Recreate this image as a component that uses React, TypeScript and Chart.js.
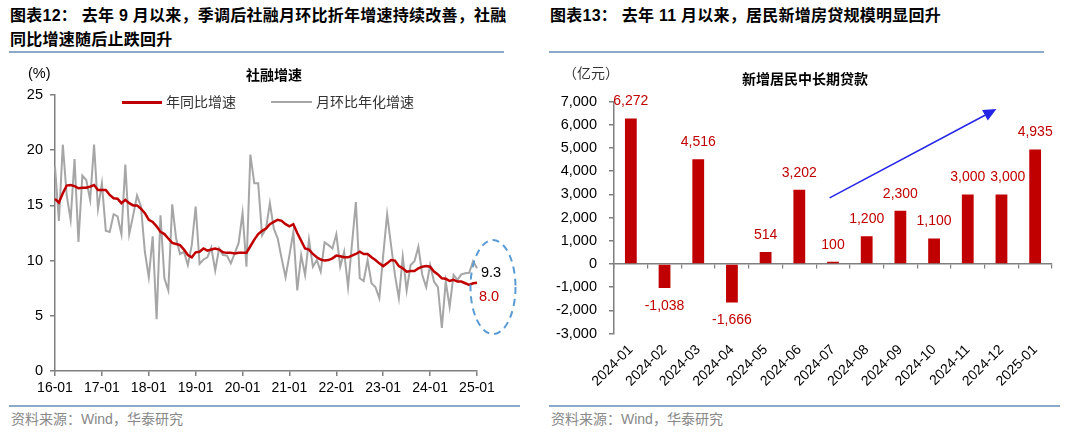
import React, { useEffect, useRef } from 'react';
import { Chart, registerables } from 'chart.js';

Chart.register(...registerables);

// ---------------- Left chart data ----------------
const MONTHS: string[] = [];
for (let y = 16; y <= 25; y++) {
  for (let m = 1; m <= 12; m++) {
    if (y === 25 && m > 1) break;
    MONTHS.push(`${y}-${m < 10 ? '0' + m : m}`);
  }
}
const LEFT_X_TICK_LABELS = ['16-01', '17-01', '18-01', '19-01', '20-01', '21-01', '22-01', '23-01', '24-01', '25-01'];

// 年同比增速 (%)
const TSF_YOY = [
  15.6, 15.25, 16.1, 16.8, 16.85, 16.75, 16.55, 16.6, 16.6, 16.7, 16.85, 16.4,
  16.4, 16.4, 15.95, 15.65, 15.6, 15.2, 15.5, 15.2, 15.0, 15.0, 14.7, 14.3,
  13.7, 13.5, 13.1, 12.6, 12.4, 12.0, 11.6, 11.5, 11.4, 11.0, 10.5, 10.3,
  10.75, 10.8, 11.1, 10.9, 11.0, 11.1, 11.0, 10.75, 10.7, 10.7, 10.65, 10.7,
  10.7, 10.7, 11.3, 11.9, 12.4, 12.7, 12.9, 13.3, 13.5, 13.7, 13.6, 13.3,
  13.1, 13.3, 12.5, 11.8, 11.1, 11.0, 10.6, 10.3, 10.1, 10.0, 10.05, 10.2,
  10.45, 10.4, 10.3, 10.3, 10.45, 10.6, 10.8, 10.6, 10.6, 10.3, 10.05, 9.75,
  9.5, 9.75, 10.05, 10.0, 9.5, 9.3, 9.0, 9.05, 9.05, 9.3, 9.45, 9.5,
  9.45, 9.0, 8.75, 8.4, 8.35, 8.15, 8.25, 8.1, 8.1, 7.95, 7.8, 7.95,
  8.0,
];

// 月环比年化增速 (%)
const TSF_MOM_ANN = [
  18.5, 13.6, 20.5, 15.9, 13.7, 19.2, 11.7, 17.7, 17.3, 15.5, 20.5, 14.7,
  17.0, 12.7, 12.6, 14.2, 14.0, 12.4, 18.7, 12.4, 14.1, 15.9, 14.9, 10.8,
  8.5, 12.2, 4.7, 14.1, 8.4, 7.3, 15.1, 12.0, 10.6, 10.8, 9.6, 11.4,
  14.9, 9.7, 10.1, 10.3, 11.2, 9.1, 11.1, 10.5, 10.45, 9.75, 10.65, 11.6,
  14.3, 9.45, 19.6, 17.0, 17.0, 12.3, 12.9, 15.2, 12.9, 12.0, 10.2, 8.5,
  10.5, 12.6, 7.3, 10.5, 8.7, 11.9, 9.45, 10.05, 9.0, 11.65, 11.4, 11.1,
  12.4, 9.45, 10.8, 7.6, 11.5, 15.3, 8.4, 8.15, 10.05, 7.95, 7.6, 6.6,
  10.5, 14.2, 11.4, 8.7, 6.6, 10.35, 7.3, 9.6, 9.95, 11.25, 8.7, 7.6,
  9.6, 8.1, 7.6, 3.9, 8.1, 5.8, 8.7, 8.25, 8.75, 8.85, 8.9, 9.95,
  9.3,
];

// ---------------- Right chart data ----------------
const LOAN_MONTHS = ['2024-01', '2024-02', '2024-03', '2024-04', '2024-05', '2024-06', '2024-07', '2024-08', '2024-09', '2024-10', '2024-11', '2024-12', '2025-01'];
// 新增居民中长期贷款 (亿元)
const LOAN_VALUES = [6272, -1038, 4516, -1666, 514, 3202, 100, 1200, 2300, 1100, 3000, 3000, 4935];

// trend arrow, in data coordinates (category index, value)
const ARROW_FROM = [5.9, 2850];
const ARROW_TO = [10.85, 6680];

const RED = '#C00000';
const GRAY = '#A6A6A6';
const AXIS = '#7F7F7F';
const NUM_FONT = '"Liberation Sans", Arial, "Noto Sans CJK SC", sans-serif';
const CJK_FONT = '"Liberation Sans", "Noto Sans CJK SC", sans-serif';

const leftAnnot = {
  id: 'leftAnnot',
  afterDatasetsDraw(chart: any) {
    const ctx = chart.ctx;
    const xs = chart.scales.x;
    const ys = chart.scales.y;
    const last = MONTHS.length - 1;
    const px = xs.getPixelForValue(last);
    ctx.save();
    ctx.font = `14.5px ${NUM_FONT}`;
    ctx.textBaseline = 'middle';
    ctx.textAlign = 'left';
    ctx.fillStyle = '#000';
    ctx.fillText(TSF_MOM_ANN[last].toFixed(1), px + 4, ys.getPixelForValue(TSF_MOM_ANN[last]) + 4.5);
    ctx.fillStyle = RED;
    ctx.fillText(TSF_YOY[last].toFixed(1), px + 2, ys.getPixelForValue(TSF_YOY[last]) + 14);
    ctx.setLineDash([7, 5]);
    ctx.lineWidth = 2;
    ctx.strokeStyle = '#5B9BD5';
    ctx.beginPath();
    ctx.ellipse(px + 16, ys.getPixelForValue(7.6), 22.5, 47, 0, 0, Math.PI * 2);
    ctx.stroke();
    ctx.restore();
  },
};

const rightAnnot = {
  id: 'rightAnnot',
  afterDatasetsDraw(chart: any) {
    const ctx = chart.ctx;
    const meta = chart.getDatasetMeta(0);
    ctx.save();
    ctx.font = `14px ${NUM_FONT}`;
    ctx.textAlign = 'left';
    ctx.textBaseline = 'middle';
    ctx.fillStyle = RED;
    // value labels; shift right if a label would collide with the previous one at the same level
    let prevRight = -Infinity;
    let prevY = -Infinity;
    meta.data.forEach((el: any, i: number) => {
      const v = LOAN_VALUES[i];
      const txt = v.toLocaleString('en-US');
      const w = ctx.measureText(txt).width;
      const y = v >= 0 ? el.y - 17 : el.y + 18;
      let left = el.x - w / 2;
      if (Math.abs(y - prevY) < 14 && left < prevRight + 5) left = prevRight + 5;
      ctx.fillText(txt, left, y);
      prevRight = left + w;
      prevY = y;
    });
    // arrow
    const xs = chart.scales.x;
    const ys = chart.scales.y;
    const x1 = xs.getPixelForValue(ARROW_FROM[0]);
    const y1 = ys.getPixelForValue(ARROW_FROM[1]);
    const x2 = xs.getPixelForValue(ARROW_TO[0]);
    const y2 = ys.getPixelForValue(ARROW_TO[1]);
    const ang = Math.atan2(y2 - y1, x2 - x1);
    const hl = 13;
    const hw = 6;
    const bx = x2 - hl * Math.cos(ang);
    const by = y2 - hl * Math.sin(ang);
    ctx.strokeStyle = '#2525E8';
    ctx.fillStyle = '#2525E8';
    ctx.lineWidth = 1.5;
    ctx.beginPath();
    ctx.moveTo(x1, y1);
    ctx.lineTo(bx, by);
    ctx.stroke();
    ctx.beginPath();
    ctx.moveTo(x2, y2);
    ctx.lineTo(bx + hw * Math.sin(ang), by - hw * Math.cos(ang));
    ctx.lineTo(bx - hw * Math.sin(ang), by + hw * Math.cos(ang));
    ctx.closePath();
    ctx.fill();
    ctx.restore();
  },
};

function T(props: { x: number; y: number; size: number; bold?: boolean; color?: string; ls?: number; children: any }) {
  return (
    <div
      style={{
        position: 'absolute',
        left: props.x,
        top: props.y,
        transform: 'translateY(-50%)',
        fontSize: props.size,
        lineHeight: 1,
        fontWeight: props.bold ? 700 : 400,
        color: props.color || '#000',
        fontFamily: CJK_FONT,
        whiteSpace: 'nowrap',
        letterSpacing: props.ls || 0,
      }}
    >
      {props.children}
    </div>
  );
}

function Rule(props: { x: number; y: number; w: number }) {
  return <div style={{ position: 'absolute', left: props.x, top: props.y, width: props.w, height: 2, background: '#8DA9C9' }} />;
}

export default function App() {
  const leftRef = useRef<HTMLCanvasElement>(null);
  const rightRef = useRef<HTMLCanvasElement>(null);

  useEffect(() => {
    const c1 = new Chart(leftRef.current!, {
      type: 'line',
      data: {
        labels: MONTHS,
        datasets: [
          { label: '年同比增速', data: TSF_YOY, borderColor: RED, borderWidth: 2.5, pointRadius: 0, tension: 0 },
          { label: '月环比年化增速', data: TSF_MOM_ANN, borderColor: GRAY, borderWidth: 2, pointRadius: 0, tension: 0 },
        ],
      },
      options: {
        responsive: false,
        animation: false,
        devicePixelRatio: 1,
        layout: { padding: { top: 40, right: 63, left: 0, bottom: 0 } },
        plugins: { legend: { display: false }, tooltip: { enabled: false }, title: { display: false } },
        scales: {
          x: {
            type: 'category',
            offset: false,
            afterFit: (s: any) => { s.height = 29; },
            grid: {
              drawOnChartArea: false,
              drawTicks: true,
              tickLength: 5,
              lineWidth: 1.5,
              color: (c: any) => (LEFT_X_TICK_LABELS.includes(MONTHS[c.index]) ? AXIS : 'rgba(0,0,0,0)'),
            },
            border: { display: true, color: AXIS, width: 1.5 },
            ticks: {
              autoSkip: false,
              maxRotation: 0,
              minRotation: 0,
              padding: 4,
              color: '#000',
              font: { size: 14, family: NUM_FONT },
              callback: (_v: any, i: number) => (LEFT_X_TICK_LABELS.includes(MONTHS[i]) ? MONTHS[i] : ''),
            },
          },
          y: {
            min: 0,
            max: 25,
            afterFit: (s: any) => { s.width = 55; },
            grid: { drawOnChartArea: false, drawTicks: true, tickLength: 5, color: AXIS, lineWidth: 1.5 },
            border: { display: true, color: AXIS, width: 1.5 },
            ticks: { stepSize: 5, padding: 7, color: '#000', font: { size: 14.5, family: NUM_FONT } },
          },
        },
      },
      plugins: [leftAnnot],
    } as any);

    const c2 = new Chart(rightRef.current!, {
      type: 'bar',
      data: {
        labels: LOAN_MONTHS,
        datasets: [
          { label: '新增居民中长期贷款', data: LOAN_VALUES, backgroundColor: RED, categoryPercentage: 1, barPercentage: 0.35, xAxisID: 'x' },
        ],
      },
      options: {
        responsive: false,
        animation: false,
        devicePixelRatio: 1,
        layout: { padding: { top: 46.7, right: 28, left: 0, bottom: 0 } },
        plugins: { legend: { display: false }, tooltip: { enabled: false }, title: { display: false } },
        scales: {
          x: {
            type: 'category',
            position: { y: 0 },
            offset: true,
            grid: { offset: true, drawOnChartArea: false, drawTicks: true, tickLength: 4, color: AXIS, lineWidth: 1.2 },
            border: { display: true, color: AXIS, width: 1.5 },
            ticks: { display: false },
          },
          x2: {
            type: 'category',
            position: 'bottom',
            offset: true,
            afterFit: (s: any) => { s.height = 66.5; },
            grid: { display: false, drawTicks: false },
            border: { display: false },
            ticks: {
              autoSkip: false,
              minRotation: 45,
              maxRotation: 45,
              padding: 8,
              color: '#000',
              font: { size: 14, family: NUM_FONT },
            },
          },
          y: {
            min: -3000,
            max: 7000,
            afterFit: (s: any) => { s.width = 74; },
            grid: { drawOnChartArea: false, drawTicks: true, tickLength: 5, color: AXIS, lineWidth: 1.5 },
            border: { display: true, color: AXIS, width: 1.5 },
            ticks: {
              stepSize: 1000,
              padding: 12,
              color: '#000',
              font: { size: 14.5, family: NUM_FONT },
              callback: (v: any) => Number(v).toLocaleString('en-US'),
            },
          },
        },
      },
      plugins: [rightAnnot],
    } as any);

    return () => {
      c1.destroy();
      c2.destroy();
    };
  }, []);

  return (
    <div style={{ position: 'fixed', left: 0, top: 0, width: 1080, height: 435, background: '#fff', overflow: 'hidden' }}>
      {/* headers */}
      <T x={10} y={16} size={16} bold ls={0.25}>图表12：&nbsp;去年 9 月以来，季调后社融月环比折年增速持续改善，社融</T>
      <T x={10} y={40} size={16} bold ls={0.25}>同比增速随后止跌回升</T>
      <T x={550} y={16} size={16} bold ls={0.25}>图表13：&nbsp;去年 11 月以来，居民新增房贷规模明显回升</T>
      <Rule x={9} y={51} w={495} />
      <Rule x={549} y={51} w={495} />

      {/* canvases */}
      <canvas ref={leftRef} width={540} height={345} style={{ position: 'absolute', left: 0, top: 55, width: 540, height: 345 }} />
      <canvas ref={rightRef} width={540} height={345} style={{ position: 'absolute', left: 540, top: 55, width: 540, height: 345 }} />

      {/* left overlays */}
      <T x={28} y={73} size={14.5}>(%)</T>
      <T x={246} y={75} size={14} bold>社融增速</T>
      <div style={{ position: 'absolute', left: 122, top: 101, width: 40, height: 2.5, background: RED }} />
      <T x={166} y={102} size={14} color="#333">年同比增速</T>
      <div style={{ position: 'absolute', left: 271, top: 101, width: 41, height: 2, background: GRAY }} />
      <T x={316} y={102} size={14} color="#333">月环比年化增速</T>

      {/* right overlays */}
      <T x={563} y={73} size={14} color="#333">（亿元）</T>
      <T x={742} y={79} size={14} bold>新增居民中长期贷款</T>

      {/* footers */}
      <Rule x={9} y={405} w={511} />
      <Rule x={549} y={405} w={511} />
      <T x={11} y={419} size={14} color="#888">资料来源：Wind，华泰研究</T>
      <T x={551} y={419} size={14} color="#888">资料来源：Wind，华泰研究</T>
    </div>
  );
}
